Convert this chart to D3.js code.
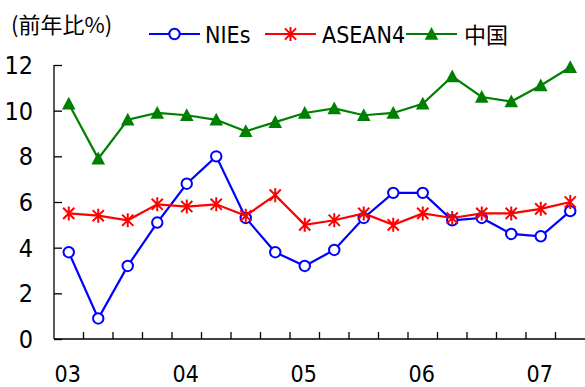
<!DOCTYPE html>
<html>
<head>
<meta charset="utf-8">
<script src="https://cdn.jsdelivr.net/npm/d3@7"></script>
<style>
  html, body { margin: 0; padding: 0; background: #fff; }
  svg { display: block; }
  .num { font-family: "Liberation Sans Narrow", "DejaVu Sans Condensed", "Noto Sans CJK JP", sans-serif; }
  .cjk { font-family: "Noto Sans CJK JP", sans-serif; }
</style>
</head>
<body>
<script>
// Quarterly year-on-year growth (%), 2003 Q1 – 2007 Q2
const quarters = ["03Q1","03Q2","03Q3","03Q4","04Q1","04Q2","04Q3","04Q4",
                  "05Q1","05Q2","05Q3","05Q4","06Q1","06Q2","06Q3","06Q4",
                  "07Q1","07Q2"];
const yearLabels = ["03","04","05","06","07"];
const nies   = [3.8, 0.9, 3.2, 5.1, 6.8, 8.0, 5.3, 3.8, 3.2, 3.9, 5.3, 6.4, 6.4, 5.2, 5.3, 4.6, 4.5, 5.6];
const asean4 = [5.5, 5.4, 5.2, 5.9, 5.8, 5.9, 5.4, 6.3, 5.0, 5.2, 5.5, 5.0, 5.5, 5.3, 5.5, 5.5, 5.7, 6.0];
const china  = [10.3, 7.9, 9.6, 9.9, 9.8, 9.6, 9.1, 9.5, 9.9, 10.1, 9.8, 9.9, 10.3, 11.5, 10.6, 10.4, 11.1, 11.9];
const yTicks = [0, 2, 4, 6, 8, 10, 12];

const series = [
  { name: "NIEs",   values: nies,   color: "#0000ff", marker: "circle" },
  { name: "ASEAN4", values: asean4, color: "#ff0000", marker: "star" },
  { name: "中国",   values: china,  color: "#008000", marker: "triangle" }
];

const W = 585, H = 387;
const plot = { left: 54, right: 585, top: 65, bottom: 339 };

const svg = d3.select("body").append("svg").attr("width", W).attr("height", H);

const x = d3.scaleBand().domain(quarters).range([plot.left, plot.right]).paddingInner(0).paddingOuter(0);
const y = d3.scaleLinear().domain([0, 12]).range([plot.bottom, plot.top]);
const cx = q => x(q) + x.bandwidth() / 2;

// y axis: inward ticks, labels on the left
const yAxis = svg.append("g").attr("transform", `translate(${plot.left},0)`)
  .call(d3.axisRight(y).tickValues(yTicks).tickSize(8).tickFormat(""));
yAxis.select(".domain").attr("stroke", "#000").attr("stroke-width", 1.3).attr("d", `M0,${plot.top}V${plot.bottom}`);
yAxis.selectAll(".tick line").attr("stroke", "#000").attr("stroke-width", 1.3);

svg.append("g").selectAll("text").data(yTicks).join("text")
  .attr("class", "num")
  .attr("x", 33).attr("y", d => y(d))
  .attr("dy", "0.36em")
  .attr("text-anchor", "end")
  .attr("font-size", 25)
  .attr("fill", "#000")
  .text(d => d);

// x axis: ticks on category boundaries pointing up
const boundaries = quarters.slice(1);
const xAxisG = svg.append("g");
xAxisG.append("line")
  .attr("x1", plot.left).attr("x2", plot.right)
  .attr("y1", plot.bottom).attr("y2", plot.bottom)
  .attr("stroke", "#000").attr("stroke-width", 1.3);
xAxisG.selectAll("line.tk").data(boundaries).join("line")
  .attr("class", "tk")
  .attr("x1", d => x(d)).attr("x2", d => x(d))
  .attr("y1", plot.bottom).attr("y2", plot.bottom - 7)
  .attr("stroke", "#000").attr("stroke-width", 1.3);

svg.append("g").selectAll("text").data(yearLabels).join("text")
  .attr("class", "num")
  .attr("x", (d, i) => cx(quarters[i * 4]) - 1)
  .attr("y", 382)
  .attr("text-anchor", "middle")
  .attr("font-size", 23)
  .attr("fill", "#000")
  .text(d => d);

// marker drawing
function drawMarker(g, type, color) {
  if (type === "circle") {
    g.append("circle").attr("r", 5.2).attr("fill", "#fff").attr("stroke", color).attr("stroke-width", 2);
  } else if (type === "star") {
    const r = 7, d = r * 0.8;
    g.append("path")
      .attr("d", `M0,${-r}V${r}M${-d},${-d}L${d},${d}M${-d},${d}L${d},${-d}`)
      .attr("stroke", color).attr("stroke-width", 2).attr("fill", "none");
  } else {
    g.append("path").attr("d", "M0,-7L6.8,5.8L-6.8,5.8Z").attr("fill", color);
  }
}

const line = d3.line().x((d, i) => cx(quarters[i])).y(d => y(d));

series.forEach(s => {
  const g = svg.append("g");
  g.append("path").datum(s.values).attr("d", line)
    .attr("fill", "none").attr("stroke", s.color).attr("stroke-width", 2.2);
  g.selectAll("g.m").data(s.values).join("g")
    .attr("class", "m")
    .attr("transform", (d, i) => `translate(${cx(quarters[i])},${y(d)})`)
    .each(function () { drawMarker(d3.select(this), s.marker, s.color); });
});

// title / unit
svg.append("text").attr("class", "cjk")
  .attr("x", 11).attr("y", 33)
  .attr("font-size", 22).attr("fill", "#000")
  .text("(前年比%)");

// legend
const legendPos = [
  { lx: 149, tx: 205 },
  { lx: 265, tx: 322 },
  { lx: 406, tx: 464 }
];
series.forEach((s, i) => {
  const p = legendPos[i];
  const g = svg.append("g");
  g.append("line").attr("x1", p.lx).attr("x2", p.lx + 51).attr("y1", 34).attr("y2", 34)
    .attr("stroke", s.color).attr("stroke-width", 2.2);
  const m = g.append("g").attr("transform", `translate(${p.lx + 25.5},34)`);
  drawMarker(m, s.marker, s.color);
  g.append("text")
    .attr("class", i === 2 ? "cjk" : "num")
    .attr("x", p.tx).attr("y", 43)
    .attr("font-size", i === 2 ? 22 : 23)
    .attr("fill", "#000")
    .text(s.name);
});
</script>
</body>
</html>
